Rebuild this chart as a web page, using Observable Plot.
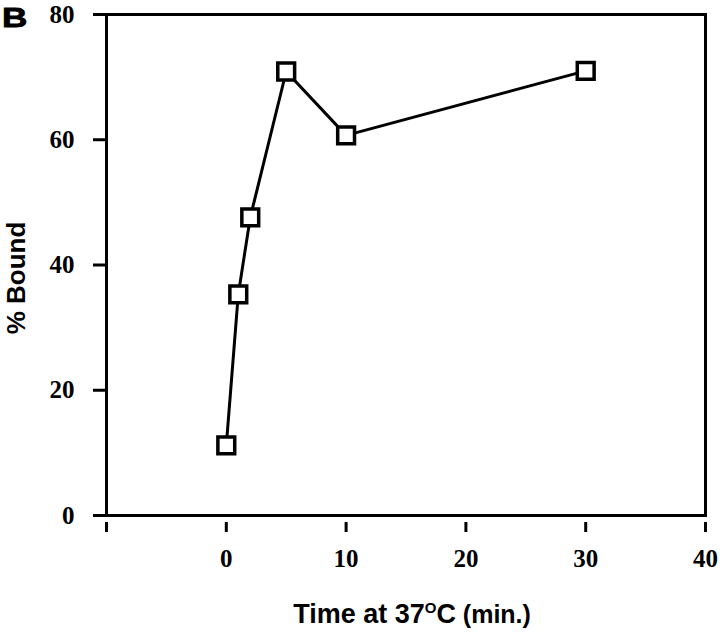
<!DOCTYPE html>
<html><head><meta charset="utf-8">
<script src="https://cdn.jsdelivr.net/npm/d3@7"></script>
<script src="https://cdn.jsdelivr.net/npm/@observablehq/plot@0.6"></script>
<style>
body{margin:0;background:#fff}
#chart{position:relative;width:720px;height:636px}
#chart svg g[aria-label="x-axis tick label"] text,
#chart svg g[aria-label="y-axis tick label"] text{
  font-size:25px !important; font-weight:bold !important;
  font-family:'Liberation Serif','DejaVu Serif',serif !important;
}
</style>
</head><body><div id="chart"></div>
<script>
const times = [0, 1, 2, 5, 10, 30];
const bound = [11.2, 35.3, 47.6, 70.9, 60.7, 71.0];
const xTicks = [-10, 0, 10, 20, 30, 40];
const yTicks = [0, 20, 40, 60, 80];
const panelLabel = "B";
const yTitle = "% Bound";
const xTitleParts = ["Time at 37", "O", "C", " (min.)"];

const data = times.map((t, i) => ({t, b: bound[i]}));
const serif = "'Liberation Serif', 'DejaVu Serif', serif";
const sans = "'Liberation Sans', Arial, sans-serif";

const plot = Plot.plot({
  width: 720, height: 636,
  marginLeft: 106, marginRight: 15, marginTop: 14, marginBottom: 121,
  style: {background: "#fff", color: "#000", overflow: "visible"},
  x: {domain: [-10, 40]},
  y: {domain: [0, 80]},
  marks: [
    Plot.axisY(yTicks, {tickSize: 13, tickPadding: 19, strokeWidth: 3, fontSize: 25, fontWeight: "bold", fontFamily: serif, label: null}),
    Plot.axisX(xTicks, {tickSize: 10, dy: 7, tickPadding: 17, strokeWidth: 3, fontSize: 25, fontWeight: "bold", fontFamily: serif, label: null,
      tickFormat: d => d === -10 ? "" : String(d)}),
    Plot.frame({strokeWidth: 3, stroke: "#000"}),
    Plot.line(data, {x: "t", y: "b", stroke: "#000", strokeWidth: 3}),
    Plot.dot(data, {x: "t", y: "b", symbol: "square", r: 9.5, fill: "white", stroke: "#000", strokeWidth: 3.5})
  ]
});
document.getElementById("chart").appendChild(plot);

const svg = d3.select(plot);
svg.append("text")
  .attr("transform", "translate(2,27) scale(1.3,1)")
  .attr("text-anchor", "start")
  .attr("font-family", sans).attr("font-weight", "bold").attr("font-size", 27)
  .attr("stroke", "#000").attr("stroke-width", 0.8)
  .text(panelLabel);

svg.append("text")
  .attr("transform", "translate(25,278) rotate(-90)")
  .attr("text-anchor", "middle")
  .attr("font-family", sans).attr("font-weight", "bold").attr("font-size", 26)
  .text(yTitle);

const xt = svg.append("text").attr("x", 412).attr("y", 623)
  .attr("text-anchor", "middle")
  .attr("font-family", sans).attr("font-weight", "bold").attr("font-size", 27);
xt.append("tspan").text(xTitleParts[0]);
xt.append("tspan").attr("font-size", 15).attr("dy", -10).text(xTitleParts[1]);
xt.append("tspan").attr("dy", 10).text(xTitleParts[2]);
xt.append("tspan").attr("font-size", 25).text(xTitleParts[3]);
</script>
</body></html>
